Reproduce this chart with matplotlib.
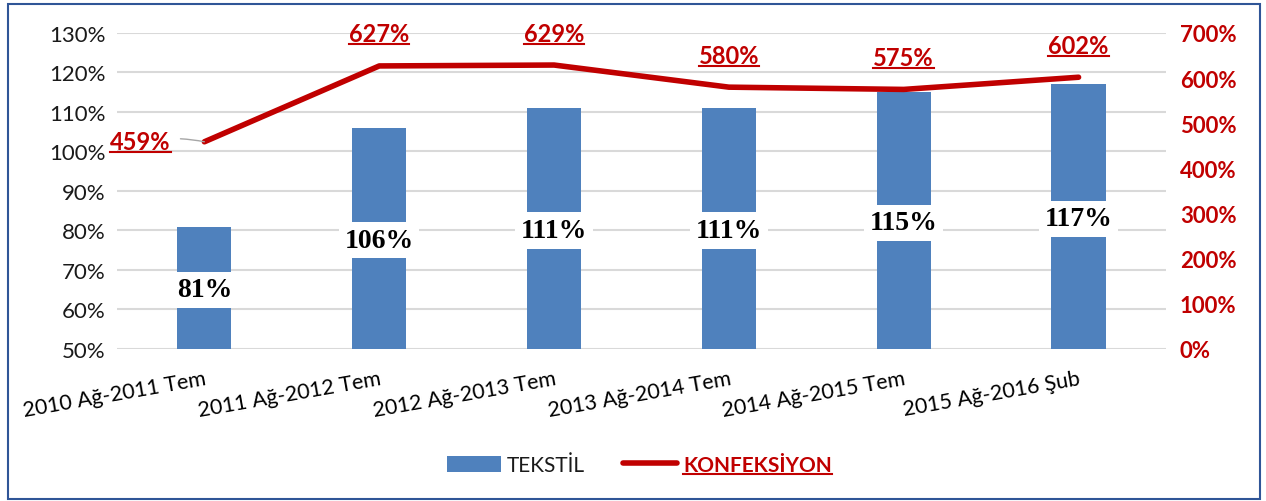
import matplotlib
matplotlib.use("Agg")
import matplotlib.pyplot as plt
from matplotlib.lines import Line2D
from matplotlib.patches import Rectangle, Patch
from matplotlib.text import Text

# data
donemler = ["2010 Ağ-2011 Tem", "2011 Ağ-2012 Tem", "2012 Ağ-2013 Tem",
            "2013 Ağ-2014 Tem", "2014 Ağ-2015 Tem", "2015 Ağ-2016 Şub"]
tekstil = [81, 106, 111, 111, 115, 117]
konfeksiyon = [459, 627, 629, 580, 575, 602]

MAVI = "#4F81BD"
KIRMIZI = "#C00000"
plt.rcParams["font.family"] = ["Lato", "DejaVu Sans"]

fig = plt.figure(figsize=(12.66, 5.02), dpi=100)
ax = fig.add_axes([0.0924, 0.3028, 0.8286, 0.6295])
ax2 = ax.twinx()

x = list(range(len(donemler)))
ax.bar(x, tekstil, width=0.31, color=MAVI, zorder=2)
ax.set_ylim(50, 130)
ax.set_yticks(range(50, 131, 10))
ax.set_yticklabels([f"{v}%" for v in range(50, 131, 10)], fontsize=16, color="#1a1a1a")
ax.set_xlim(-0.5, len(donemler) - 0.5)
ax.set_xticks(x)
ax.set_xticklabels(donemler, fontsize=15.5, rotation=10, ha="right", rotation_mode="anchor")
ax.tick_params(length=0, pad=8)
ax.tick_params(axis="x", pad=14)
ax.grid(axis="y", color="#D9D9D9", lw=1.5, zorder=0)
ax.set_axisbelow(True)
for s in ax.spines.values():
    s.set_visible(False)

for xi, v in zip(x, tekstil):
    ax.text(xi, (50 + v) / 2 - 0.5, f"{v}%", ha="center", va="center", fontsize=20,
            fontweight="bold", family="Liberation Serif", zorder=4,
            bbox=dict(facecolor="white", edgecolor="none", pad=4))

ax2.plot(x, konfeksiyon, color=KIRMIZI, lw=4, solid_capstyle="round", zorder=3)
ax2.set_ylim(0, 700)
ax2.set_yticks(range(0, 701, 100))
ax2.set_yticklabels([f"{v}%" for v in range(0, 701, 100)], fontsize=16,
                    color=KIRMIZI, fontweight="bold")
ax2.tick_params(length=0, pad=10)
for s in ax2.spines.values():
    s.set_visible(False)

altcizgi = []
for xi, v in zip(x, konfeksiyon):
    if xi == 0:
        t = ax2.annotate(f"{v}%", (xi, v), xytext=(-46, 0), textcoords="offset points",
                         ha="center", va="center", fontsize=17, fontweight="bold",
                         color=KIRMIZI,
                         arrowprops=dict(arrowstyle="-", color="#A6A6A6", lw=1,
                                         shrinkA=5, shrinkB=0,
                                         connectionstyle="arc3,rad=-0.1"))
    else:
        t = ax2.annotate(f"{v}%", (xi, v), xytext=(0, 23), textcoords="offset points",
                         ha="center", va="center", fontsize=17, fontweight="bold",
                         color=KIRMIZI)
    altcizgi.append(t)

handles = [Patch(facecolor=MAVI), Line2D([], [], color=KIRMIZI, lw=4, solid_capstyle="round")]
leg = fig.legend(handles, ["TEKSTİL", "KONFEKSİYON"], loc="center",
                 bbox_to_anchor=(0.505, 0.072), ncol=2, frameon=False, fontsize=15,
                 handlelength=2.6, handleheight=0.8, columnspacing=1.8, handletextpad=0.3)
lt = leg.get_texts()
lt[0].set_color("#1a1a1a")
lt[1].set_color(KIRMIZI)
lt[1].set_fontweight("bold")
altcizgi.append(lt[1])

fig.patches.append(Rectangle((8 / 1266, 0.004), 1252 / 1266, 0.986, transform=fig.transFigure,
                             fill=False, edgecolor="#2F5597", lw=1.5))

fig.canvas.draw()
r = fig.canvas.get_renderer()
inv = fig.transFigure.inverted()
for t in altcizgi:
    bb = Text.get_window_extent(t, r)
    (x0, y0), (x1, _) = inv.transform([(bb.x0, bb.y0 + 1), (bb.x1, bb.y0 + 1)])
    fig.add_artist(Line2D([x0, x1], [y0, y0], transform=fig.transFigure,
                          color=KIRMIZI, lw=1.5))

fig.savefig("out.png", dpi=100)
